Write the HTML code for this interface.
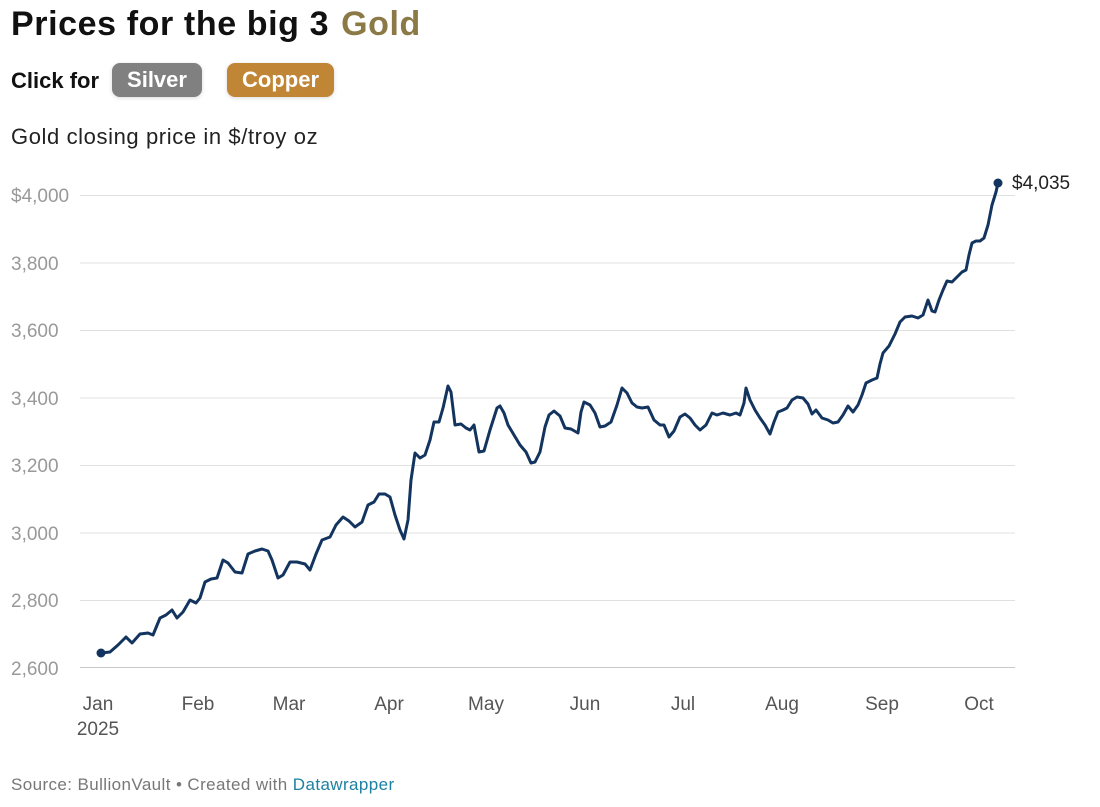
<!DOCTYPE html>
<html><head><meta charset="utf-8"><style>
body{margin:0;background:#fff;width:1100px;height:807px;overflow:hidden;font-family:"Liberation Sans",sans-serif;}
.t{position:absolute;left:11px;top:5px;font-size:34px;font-weight:bold;color:#111;letter-spacing:0.6px}
.t span{color:#8b7a45;margin-left:12px}
.c{position:absolute;left:11px;top:68px;font-size:22px;font-weight:bold;color:#111}
.b{position:absolute;top:63px;height:34px;border-radius:8px;color:#fff;font-size:22px;font-weight:bold;line-height:34px;text-align:center;box-shadow:0 1px 4px rgba(0,0,0,.15)}
.s{position:absolute;left:11px;top:124px;font-size:22px;color:#222;letter-spacing:0.6px}
.f{position:absolute;left:11px;top:775px;font-size:17px;color:#777;letter-spacing:0.4px}
.f span{color:#1d81a2}
</style></head><body>
<div class="t">Prices for the big 3<span>Gold</span></div>
<div class="c">Click for</div>
<div class="b" style="left:112px;width:90px;background:#808080">Silver</div>
<div class="b" style="left:227px;width:107px;background:#c08636">Copper</div>
<div class="s">Gold closing price in $/troy oz</div>
<svg width="1100" height="807" style="position:absolute;left:0;top:0" font-family="Liberation Sans, sans-serif">
<g stroke="#e0e0e0" stroke-width="1">
<line x1="80" x2="1015" y1="195.5" y2="195.5"/><line x1="80" x2="1015" y1="263" y2="263"/>
<line x1="80" x2="1015" y1="330.5" y2="330.5"/><line x1="80" x2="1015" y1="398" y2="398"/>
<line x1="80" x2="1015" y1="465.5" y2="465.5"/><line x1="80" x2="1015" y1="533" y2="533"/>
<line x1="80" x2="1015" y1="600.5" y2="600.5"/></g>
<line x1="80" x2="1015" y1="667.5" y2="667.5" stroke="#c8c8c8" stroke-width="1"/>
<g fill="#999" font-size="19">
<text x="11" y="202">$4,000</text><text x="11" y="270">3,800</text><text x="11" y="337">3,600</text>
<text x="11" y="405">3,400</text><text x="11" y="472">3,200</text><text x="11" y="540">3,000</text>
<text x="11" y="607">2,800</text><text x="11" y="675">2,600</text></g>
<g fill="#555" font-size="19" text-anchor="middle">
<text x="98" y="710">Jan</text><text x="98" y="735">2025</text><text x="198" y="710">Feb</text><text x="289" y="710">Mar</text>
<text x="389" y="710">Apr</text><text x="486" y="710">May</text><text x="585" y="710">Jun</text><text x="683" y="710">Jul</text>
<text x="782" y="710">Aug</text><text x="882" y="710">Sep</text><text x="979" y="710">Oct</text></g>
<polyline fill="none" stroke="#12345e" stroke-width="3" stroke-linejoin="round" stroke-linecap="round" points="101,653 110,652 118,645 126,637 132,643 140,634 148,633 153,635 160,618 166,615 172,610 177,618 183,612 190,600 196,603 200,598 205,582 211,579 217,578 223,560 228,563 235,572 242,573 248,554 255,551 262,549 268,551 272,560 278,578 283,575 290,562 297,562 305,564 310,570 316,554 322,540 330,537 336,525 343,517 349,521 355,527 362,522 368,505 374,502 379,494 385,494 390,497 395,515 400,530 404,539 408,520 411,480 415,453 420,458 425,455 430,440 434,422 439,422 443,408 448,386 451,392 455,425 461,424 466,428 470,430 474,425 479,452 484,451 490,430 497,408 500,406 504,413 508,425 514,435 520,445 526,452 531,463 535,462 540,452 545,427 549,415 554,411 560,416 565,428 571,429 578,433 581,412 584,402 590,405 595,413 600,427 605,426 611,422 617,405 622,388 627,393 632,403 637,407 642,408 648,407 654,420 660,425 664,425 669,437 674,431 680,417 685,414 690,418 695,425 700,430 706,425 712,413 717,415 723,413 730,415 736,413 740,415 744,403 746,388 750,400 755,410 760,418 765,425 770,434 774,422 778,412 783,410 787,408 792,400 797,397 803,398 808,404 812,414 816,410 822,418 828,420 833,423 838,422 843,415 848,406 853,412 858,405 862,395 866,383 872,380 877,378 880,364 883,353 889,346 895,334 900,322 905,317 912,316 918,318 923,315 928,300 932,311 935,312 939,300 943,290 947,281 952,282 957,277 962,272 966,270 969,255 972,243 976,241 980,241 984,238 988,225 992,205 996,192 998,183"/>
<circle cx="101" cy="653" r="4.5" fill="#12345e"/><circle cx="998" cy="183" r="4.5" fill="#12345e"/>
<text x="1012" y="189" font-size="19" fill="#222">$4,035</text>
</svg>
<div class="f">Source: BullionVault • Created with <span>Datawrapper</span></div>
</body></html>
